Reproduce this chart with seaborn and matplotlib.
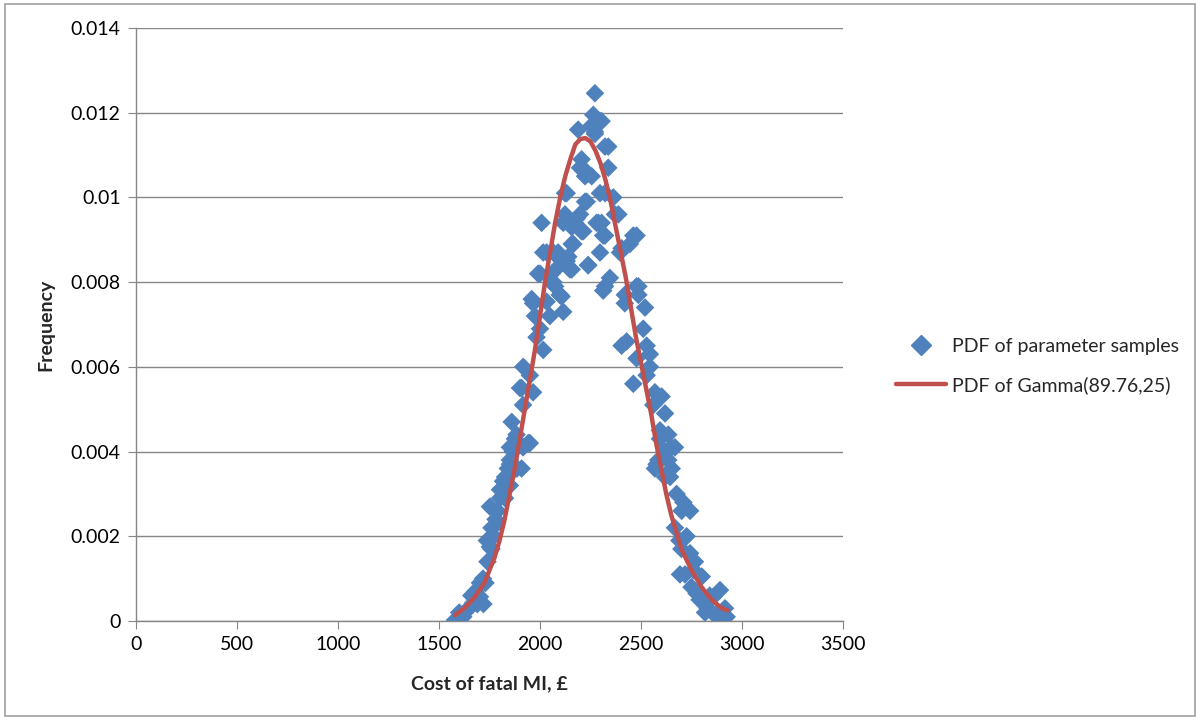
import pandas as pd
import matplotlib
matplotlib.use("Agg")
import matplotlib.pyplot as plt
import seaborn as sns
from matplotlib.lines import Line2D
from matplotlib.patches import Rectangle

sample_cost = [
    1579, 1604, 1638, 1668, 1703, 1703, 1718, 1752, 1737, 1787, 1752, 1802, 1817, 1817, 1837,
    1886, 1851, 1916, 1950, 1600, 1620, 1650, 1660, 1680, 1690, 1720, 1730, 1740, 1760, 1770,
    1780, 1790, 1760,
    1909, 1916, 1860, 1884, 1942, 1866, 1851, 1909, 1841, 1827, 1851, 1802, 1827,
    2008, 2124, 2231, 2198, 2124, 2173, 2206, 2280, 2157, 2033, 2090, 2140, 2107, 2238, 2000,
    2058, 2157, 2066, 2099, 2075, 1966, 2033, 2107, 1975, 2049, 2115, 2000, 1983, 2016, 1917,
    1950, 1901, 1966, 1876, 1851,
    2272, 2264, 2297, 2189, 2272, 2256, 2322, 2206, 2198, 2231, 2223, 2256, 2132, 2223, 2297,
    2115, 2181, 2289, 2157, 2214, 2313, 2165, 2016, 2066, 2297, 2132, 2099, 1991, 2148, 2239,
    2058, 2099, 2313, 1959,
    2305, 2272, 2338, 2338, 2363, 2371, 2322, 2478, 2445, 2396, 2346,
    2322, 2388, 2305, 2462, 2404, 2478, 2420,
    2322, 2487, 2487, 2420, 2520, 2511, 2429, 2404, 2528, 2544, 2478, 2544, 2528, 2462, 2569,
    2561, 2619, 2594, 2635, 2594, 2668, 2627, 2577, 2635,
    2602, 2619, 2652, 2619, 2676,
    2652, 2586, 2569, 2644, 2710, 2743, 2701, 2668, 2726, 2743, 2767, 2718, 2801, 2775, 2891,
    2858, 2817, 2866, 2924, 2916, 2899,
    2693, 2750, 2790, 2830, 2840, 2880, 2700, 2690, 2760,
]
sample_pdf = [
    0.00002, 0.0000, 0.00026, 0.00042, 0.00057, 0.0009, 0.0010, 0.00175, 0.0019, 0.0023, 0.0027, 0.0029, 0.0031, 0.0033, 0.0034,
    0.0036, 0.0037, 0.0041, 0.0042, 0.0002, 0.0001, 0.0003, 0.0006, 0.0007, 0.0004, 0.0004, 0.0009, 0.0014, 0.0017, 0.0020,
    0.0024, 0.0026, 0.0022,
    0.0055, 0.0051, 0.0047, 0.0044, 0.0042, 0.0040, 0.0038, 0.0036, 0.0036, 0.0034, 0.0032, 0.0031, 0.0029,
    0.0094, 0.0101, 0.0099, 0.0096, 0.0096, 0.0094, 0.0092, 0.0094, 0.0089, 0.0087, 0.0087, 0.0086, 0.0085, 0.0084, 0.0082,
    0.0082, 0.0083, 0.0080, 0.0077, 0.0079, 0.0075, 0.00754, 0.00766, 0.0072, 0.0072, 0.0073, 0.0069, 0.0067, 0.0064, 0.0060,
    0.0058, 0.0055, 0.0054, 0.0043, 0.0041,
    0.01246, 0.01195, 0.0118, 0.0116, 0.01155, 0.0117, 0.0112, 0.0109, 0.0107, 0.0106, 0.0105, 0.0105, 0.0101, 0.0099, 0.0101,
    0.0094, 0.0095, 0.0094, 0.0093, 0.0092, 0.0091, 0.0089, 0.0087, 0.0087, 0.0087, 0.0085, 0.0084, 0.0082, 0.0083, 0.0084,
    0.0080, 0.0077, 0.0078, 0.0076,
    0.0118, 0.0115, 0.0112, 0.0107, 0.0100, 0.0096, 0.0091, 0.0091, 0.0089, 0.0087, 0.0081,
    0.0101, 0.0096, 0.0094, 0.0091, 0.0088, 0.0079, 0.0077,
    0.0079, 0.0079, 0.0077, 0.0075, 0.0074, 0.0069, 0.0066, 0.0065, 0.0065, 0.0063, 0.0062, 0.0060, 0.0058, 0.0056, 0.0054,
    0.0051, 0.0049, 0.0045, 0.0044, 0.0043, 0.0041, 0.0040, 0.0037, 0.0038,
    0.0053, 0.0040, 0.0036, 0.0034, 0.0030,
    0.0041, 0.0038, 0.0036, 0.0034, 0.0028, 0.0026, 0.0026, 0.0022, 0.0020, 0.0016, 0.0014, 0.0011, 0.00105, 0.00065, 0.00073,
    0.00057, 0.0002, 0.00014, 0.0001, 0.0003, 0.0000,
    0.0011, 0.0008, 0.0005, 0.0003, 0.0006, 0.0002, 0.0017, 0.0019, 0.0012,
]

# fitted curve
curve_cost = [1580, 1625, 1675, 1725, 1775, 1800, 1825, 1850, 1875, 1900, 1925, 1950, 1975,
              2000, 2025, 2050, 2075, 2100, 2125, 2150, 2175, 2200, 2225, 2250, 2275, 2300,
              2325, 2350, 2375, 2400, 2425, 2450, 2475, 2500, 2525, 2550, 2575, 2600, 2625,
              2650, 2700, 2750, 2800, 2850, 2900, 2930]
curve_pdf = [0.00014, 0.0003, 0.00055, 0.0009, 0.0015, 0.0019, 0.0024, 0.0030, 0.0036, 0.0043,
             0.0050, 0.0057, 0.0064, 0.0072, 0.0080, 0.0087, 0.0094, 0.0100, 0.0105, 0.0109,
             0.01125, 0.01138, 0.0114, 0.01132, 0.0111, 0.0108, 0.0104, 0.0099, 0.0093, 0.0087,
             0.0081, 0.0074, 0.0067, 0.0061, 0.0055, 0.0049, 0.0042, 0.0036, 0.0030, 0.0025,
             0.0017, 0.0012, 0.0008, 0.0005, 0.0003, 0.00025]

x_ticks = [0, 500, 1000, 1500, 2000, 2500, 3000, 3500]
y_ticks = [0, 0.002, 0.004, 0.006, 0.008, 0.01, 0.012, 0.014]
y_labels = ["0", "0.002", "0.004", "0.006", "0.008", "0.01", "0.012", "0.014"]

blue = "#4F81BD"
red = "#C0504D"
grey = "#868686"

sns.set_style("white")
plt.rcParams["font.family"] = ["Lato", "DejaVu Sans"]

samples = pd.DataFrame({"cost": sample_cost, "pdf": sample_pdf})
curve = pd.DataFrame({"cost": curve_cost, "pdf": curve_pdf})

fig = plt.figure(figsize=(12, 7.2), dpi=100)
ax = fig.add_axes([0.1133, 0.1375, 0.5892, 0.8236])

sns.scatterplot(data=samples, x="cost", y="pdf", marker="D", s=90, color=blue,
                edgecolor="none", ax=ax, zorder=3)
sns.lineplot(data=curve, x="cost", y="pdf", color=red, linewidth=3.2, ax=ax, zorder=4)

ax.set_xlim(0, 3500)
ax.set_ylim(0, 0.014)
ax.set_xticks(x_ticks)
ax.set_yticks(y_ticks)
ax.set_yticklabels(y_labels)
ax.grid(axis="y", color=grey, linewidth=1)
ax.set_axisbelow(True)
for side in ["top", "right"]:
    ax.spines[side].set_visible(False)
for side in ["left", "bottom"]:
    ax.spines[side].set_color(grey)
    ax.spines[side].set_linewidth(1)
ax.tick_params(axis="both", direction="out", length=6, color=grey, labelsize=14,
               labelcolor="black", pad=5, left=True, bottom=True)

ax.set_xlabel("Cost of fatal MI, £", fontsize=14, fontweight="bold", labelpad=16)
ax.set_ylabel("Frequency", fontsize=14, fontweight="bold", labelpad=12)

handles = [
    Line2D([], [], marker="D", linestyle="none", color=blue, markersize=10),
    Line2D([], [], color=red, linewidth=3.2),
]
ax.legend(handles, ["PDF of parameter samples", "PDF of Gamma(89.76,25)"],
          loc="center left", bbox_to_anchor=(1.05, 0.43), frameon=False,
          fontsize=14, handlelength=2.6, labelspacing=1.1, handletextpad=0.3)

# chart border
fig.patches.append(Rectangle((0.004, 0.006), 0.992, 0.988, transform=fig.transFigure,
                             fill=False, edgecolor="#A0A0A0", linewidth=1.2))

fig.savefig("out.png", dpi=100)
